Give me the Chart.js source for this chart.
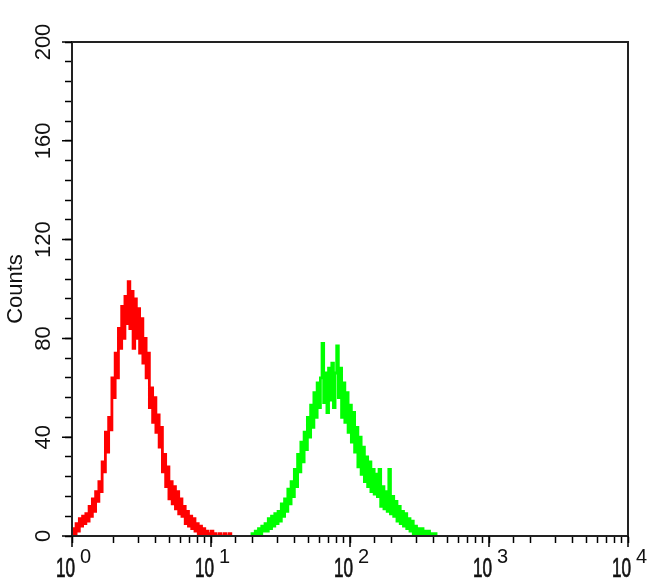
<!DOCTYPE html>
<html>
<head>
<meta charset="utf-8">
<script src="https://cdn.jsdelivr.net/npm/chart.js@4/dist/chart.umd.min.js"></script>
<style>
  body { margin: 0; background: #fff; }
  #wrap { width: 650px; height: 585px; }
</style>
</head>
<body>
<div id="wrap"><canvas id="histChart" width="650" height="585"></canvas></div>
<script>
// channels are 1024 over 4 decades: value = 10^(channel / 256)
const channelsPerDecade = 256;
const channelStep = 3;

// red histogram (isotype control), every 3 channels
const redStartChannel = 0;
const redCounts = [
    0, 3, 1, 5, 2, 7, 4, 8, 5, 9,
    6, 12, 8, 15, 10, 18, 14, 22, 18, 30,
    26, 42, 34, 48, 43, 64, 56, 74, 64, 84,
    76, 93, 80, 97, 86, 103, 84, 99, 76, 96,
    80, 92, 74, 88, 70, 80, 64, 74, 52, 60,
    46, 56, 42, 49, 36, 44, 26, 33, 20, 28,
    15, 22, 13, 20, 11, 18, 9, 15, 8, 12,
    5, 10, 4, 8, 3, 7, 2, 5, 1, 4,
    0, 3, 0, 2, 0, 1, 2, 0, 1, 0,
    0, 1, 0, 0, 1, 0, 0, 1, 0
];

// green histogram (antibody stained)
const greenStartChannel = 330;
const greenCounts = [
    0, 1, 0, 2, 0, 3, 1, 4, 2, 5,
    2, 7, 3, 8, 4, 9, 5, 10, 6, 13,
    8, 15, 10, 19, 13, 22, 16, 27, 20, 33,
    26, 38, 30, 42, 35, 48, 40, 53, 44, 58,
    48, 62, 52, 64, 78, 54, 66, 50, 68, 55,
    70, 52, 66, 77, 56, 68, 48, 62, 46, 58,
    42, 53, 38, 50, 34, 44, 28, 40, 25, 36,
    22, 32, 20, 30, 18, 27, 17, 25, 16, 27,
    12, 20, 11, 18, 10, 27, 9, 16, 8, 14,
    6, 12, 5, 10, 4, 9, 3, 7, 2, 6,
    1, 4, 1, 3, 0, 3, 1, 2, 0, 2,
    0, 1, 0, 1, 0
];

const yTickValues = [0, 40, 80, 120, 160, 200];
const xDecades = [1, 10, 100, 1000, 10000];
const xExponents = ['0', '1', '2', '3', '4'];

const fontFamily = "'Liberation Sans', Arial, sans-serif";

function toPoints(startChannel, counts) {
    return counts.map((c, i) => ({
        x: Math.pow(10, (startChannel + i * channelStep) / channelsPerDecade),
        y: c
    }));
}

// frame, longer major ticks and the tick labels (10^n with raised exponent, rotated counts)
const labelsPlugin = {
    id: 'flowLabels',
    afterDraw(chart) {
        const ctx = chart.ctx;
        const area = chart.chartArea;
        const xs = chart.scales.x;
        const ys = chart.scales.y;

        ctx.save();
        ctx.strokeStyle = '#222';
        ctx.lineWidth = 2;
        ctx.strokeRect(area.left, area.top, area.right - area.left, area.bottom - area.top);

        ctx.lineWidth = 1.5;
        ctx.strokeStyle = '#000';
        ctx.beginPath();
        yTickValues.forEach(v => {
            const py = ys.getPixelForValue(v);
            ctx.moveTo(area.left, py);
            ctx.lineTo(area.left - 10, py);
        });
        xDecades.forEach(v => {
            const px = xs.getPixelForValue(v);
            ctx.moveTo(px, area.bottom);
            ctx.lineTo(px, area.bottom + 11);
        });
        ctx.stroke();

        ctx.fillStyle = '#111';
        // y labels, reading bottom to top
        ctx.font = '22px ' + fontFamily;
        ctx.textAlign = 'center';
        ctx.textBaseline = 'middle';
        yTickValues.forEach(v => {
            ctx.save();
            ctx.translate(area.left - 29, ys.getPixelForValue(v));
            ctx.rotate(-Math.PI / 2);
            ctx.fillText(String(v), 0, 1);
            ctx.restore();
        });

        // x labels
        ctx.textBaseline = 'alphabetic';
        ctx.strokeStyle = '#111';
        ctx.lineWidth = 0.6;
        xDecades.forEach((v, i) => {
            const px = xs.getPixelForValue(v);
            ctx.save();
            ctx.translate(px + 3, area.bottom + 41);
            ctx.scale(0.78, 1.22);
            ctx.font = '22px ' + fontFamily;
            ctx.textAlign = 'right';
            ctx.fillText('10', 0, 0);
            ctx.strokeText('10', 0, 0);
            ctx.restore();
            ctx.font = '20px ' + fontFamily;
            ctx.textAlign = 'left';
            ctx.fillText(xExponents[i], px + 8, area.bottom + 27);
        });
        ctx.restore();
    }
};

document.addEventListener('DOMContentLoaded', function () {
    const ctx = document.getElementById('histChart');

    new Chart(ctx, {
        type: 'line',
        data: {
            datasets: [{
                label: 'Control',
                data: toPoints(redStartChannel, redCounts),
                borderColor: '#ff0000',
                borderWidth: 2.8,
                pointRadius: 0,
                stepped: 'middle',
                fill: false
            }, {
                label: 'Stained',
                data: toPoints(greenStartChannel, greenCounts),
                borderColor: '#00ff00',
                borderWidth: 2.8,
                pointRadius: 0,
                stepped: 'middle',
                fill: false
            }]
        },
        options: {
            responsive: false,
            devicePixelRatio: 1,
            animation: false,
            layout: {
                padding: { top: 42, right: 22, left: 0, bottom: 0 }
            },
            plugins: {
                legend: { display: false },
                tooltip: { enabled: false }
            },
            scales: {
                x: {
                    type: 'logarithmic',
                    min: 1,
                    max: 10000,
                    afterFit: scale => { scale.height = 49; },
                    grid: {
                        drawOnChartArea: false,
                        color: '#000',
                        tickLength: 7,
                        tickWidth: 1.5
                    },
                    border: { display: true, color: '#222', width: 2 },
                    ticks: { display: false, autoSkip: false }
                },
                y: {
                    min: 0,
                    max: 200,
                    afterFit: scale => { scale.width = 72; },
                    grid: {
                        drawOnChartArea: false,
                        color: '#000',
                        tickLength: 7,
                        tickWidth: 1.5
                    },
                    border: { display: true, color: '#222', width: 2 },
                    ticks: { display: false, stepSize: 8, autoSkip: false },
                    title: {
                        display: true,
                        text: 'Counts',
                        color: '#111',
                        padding: { top: 3, bottom: 0 },
                        font: { family: fontFamily, size: 22 }
                    }
                }
            }
        },
        plugins: [labelsPlugin]
    });
});
</script>
</body>
</html>
